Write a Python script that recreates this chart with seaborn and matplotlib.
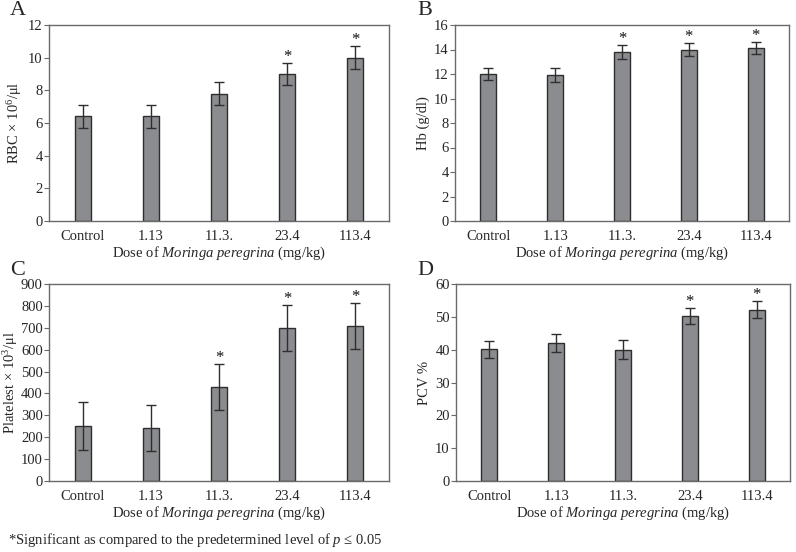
import numpy as np
import pandas as pd
import matplotlib
matplotlib.use('Agg')
import matplotlib.pyplot as plt
import seaborn as sns

# data
doses = ['Control', '1.13', '11.3.', '23.4', '113.4']

rbc = [6.4, 6.4, 7.8, 9.0, 10.0]
rbc_err = [0.7, 0.7, 0.7, 0.7, 0.7]
rbc_sig = [False, False, False, True, True]

hb = [12.0, 11.9, 13.8, 14.0, 14.1]
hb_err = [0.5, 0.55, 0.55, 0.5, 0.5]
hb_sig = [False, False, True, True, True]

plt_count = [250, 240, 430, 700, 710]
plt_err = [110, 105, 105, 105, 105]
plt_sig = [False, False, True, True, True]

pcv = [40.1, 42.0, 40.0, 50.2, 52.2]
pcv_err = [2.5, 2.8, 2.8, 2.5, 2.6]
pcv_sig = [False, False, False, True, True]

sns.set_style('white')
plt.rcParams['font.family'] = ['Liberation Serif', 'DejaVu Serif']
plt.rcParams['mathtext.fontset'] = 'custom'
plt.rcParams['mathtext.rm'] = 'Liberation Serif'
plt.rcParams['mathtext.it'] = 'Liberation Serif:italic'

bar_color = '#8b8c8f'
dark = '#2e2e2e'
spine_col = '#6a6a6a'
fs = 10.5

fig = plt.figure(figsize=(7.96, 5.52), dpi=100)

panels = [
    # letter, values, errors, significance, ylabel, ylim, yticks, axes rect, labelpad
    ('A', rbc, rbc_err, rbc_sig, 'RBC × 10$^{6}$/μl', 12, np.arange(0, 13, 2),
     [49/796, 1-221/552, 340/796, 196/552], 3),
    ('B', hb, hb_err, hb_sig, 'Hb (g/dl)', 16, np.arange(0, 17, 2),
     [455/796, 1-221/552, 334/796, 196/552], 3),
    ('C', plt_count, plt_err, plt_sig, 'Platelest × 10$^{3}$/μl', 900, np.arange(0, 901, 100),
     [49/796, 1-481/552, 340/796, 197/552], 0.5),
    ('D', pcv, pcv_err, pcv_sig, 'PCV %', 60, np.arange(0, 61, 10),
     [456/796, 1-481/552, 334/796, 197/552], 3),
]

letter_pos = {'A': (10/796, 1-15/552), 'B': (417/796, 1-15/552),
              'C': (10/796, 1-275/552), 'D': (417/796, 1-275/552)}

for letter, vals, errs, sig, ylab, ymax, yticks, rect, lpad in panels:
    ax = fig.add_axes(rect)
    df = pd.DataFrame({'dose': doses, 'value': vals})
    sns.barplot(x='dose', y='value', data=df, order=doses, color=bar_color,
                saturation=1, edgecolor=dark, linewidth=1.0, width=0.24,
                errorbar=None, ax=ax)
    ax.errorbar(np.arange(len(doses)), vals, yerr=errs, fmt='none',
                ecolor=dark, elinewidth=1.0, capsize=3.5, capthick=1.0)
    for i, (v, e, s) in enumerate(zip(vals, errs, sig)):
        if s:
            ax.annotate('*', xy=(i, v + e), xytext=(0, -1.5), textcoords='offset points',
                        ha='center', va='bottom', fontsize=12, color='#111111')
    ax.set_ylim(0, ymax)
    ax.set_xlim(-0.5, len(doses) - 0.5)
    ax.set_yticks(yticks)
    ax.set_ylabel(ylab, fontsize=fs, labelpad=lpad)
    ax.set_xlabel('Dose of $\\it{Moringa\\ peregrina}$ (mg/kg)', fontsize=fs, labelpad=1)
    ax.tick_params(axis='y', which='both', left=True, length=3.5, width=0.8,
                   color=spine_col, labelsize=fs, pad=1)
    ax.tick_params(axis='x', bottom=False, labelsize=fs, pad=3)
    for sp in ax.spines.values():
        sp.set_visible(True)
        sp.set_color(spine_col)
        sp.set_linewidth(1.0)
    fig.text(letter_pos[letter][0], letter_pos[letter][1], letter,
             fontsize=16, va='baseline', ha='left')

fig.text(8/796, 8/552, '*Significant as compared to the predetermined level of $\\it{p}$ ≤ 0.05',
         fontsize=fs, va='baseline', ha='left')

fig.savefig('out.png', dpi=100)
